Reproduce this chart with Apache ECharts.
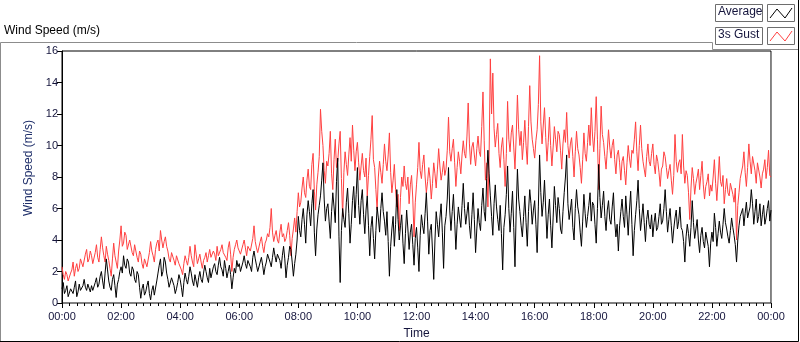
<!DOCTYPE html>
<html>
<head>
<meta charset="utf-8">
<script src="https://cdn.jsdelivr.net/npm/echarts@6/dist/echarts.min.js"></script>
<style>
  html, body { margin: 0; padding: 0; background: #fff; }
  #chart { width: 800px; height: 342px; }
</style>
</head>
<body>
<div id="chart"></div>
<script>
// sample spacing in minutes (values below run 00:00 -> 24:00, one row per hour)
const stepMin = 2.5;

const tickLabels = ["00:00", "02:00", "04:00", "06:00", "08:00", "10:00", "12:00",
  "14:00", "16:00", "18:00", "20:00", "22:00", "00:00"];

// average wind speed (m/s)
const average = [
  0.9,1.3, 0.6,0.8, 1.1,0.4, 0.5,0.9, 0.8,0.6, 1.0,1.4, 0.4,0.7, 1.2,0.8, 0.9,1.1, 1.5,1.0, 0.8,1.2, 1.3,0.7,
  1.1,0.8, 0.7,1.3, 1.6,1.0, 1.2,1.7, 2.0,1.4, 0.9,1.9, 2.8,2.1, 1.4,1.0, 0.8,1.5, 1.8,1.1, 0.35,1.2, 1.5,2.0,
  2.3,1.9, 3.0,2.4, 2.2,2.8, 2.6,1.9, 1.7,2.3, 2.1,1.5, 1.3,2.0, 1.8,1.0, 0.3,0.9, 1.2,0.5, 0.7,1.1, 1.4,0.6,
  0.2,0.8, 1.1,0.5, 0.6,1.4, 1.9,2.4, 2.8,1.7, 2.0,2.9, 2.6,1.9, 1.5,1.0, 0.9,1.6, 1.7,1.1, 0.6,0.9, 1.3,1.8,
  1.5,1.0, 0.4,1.3, 1.9,1.5, 1.2,1.7, 2.3,1.9, 1.4,1.1, 1.8,1.4, 1.0,1.6, 2.0,1.5, 1.3,1.9, 2.4,2.0, 1.6,1.3,
  2.2,1.6, 1.7,2.3, 2.5,2.0, 1.8,2.4, 2.9,2.3, 2.1,1.7, 2.7,2.2, 1.6,2.0, 2.4,1.8, 0.9,1.6, 2.2,1.9, 2.7,2.3,
  2.5,2.0, 1.9,2.6, 3.0,2.5, 2.2,2.7, 2.8,2.3, 2.0,2.9, 3.3,2.8, 2.4,2.0, 2.1,2.6, 2.9,2.4, 1.8,2.3, 2.6,3.1,
  3.0,2.6, 2.3,2.9, 3.5,3.0, 2.6,3.1, 3.2,2.7, 2.2,3.0, 3.6,2.8, 1.6,2.4, 2.9,3.6, 3.4,2.6, 1.7,2.5, 3.1,4.0,
  5.5,4.6, 4.2,5.3, 6.0,5.0, 3.8,5.6, 6.5,5.8, 4.9,6.3, 7.2,4.5, 3.0,4.7, 5.6,6.2, 6.8,7.8, 8.9,6.6, 5.2,6.0,
  6.3,5.2, 4.1,5.8, 7.0,6.1, 5.1,7.7, 9.2,4.2, 1.3,4.6, 6.0,5.3, 4.8,6.4, 7.3,5.7, 3.8,5.0, 6.5,7.4, 5.4,6.9,
  8.6,6.2, 5.0,6.5, 7.2,5.6, 4.4,5.9, 6.8,4.9, 3.0,4.8, 5.5,4.1, 2.8,4.6, 6.1,5.4, 4.5,6.0, 7.0,5.8, 5.2,4.3,
  5.8,3.9, 1.7,3.6, 4.7,5.5, 3.6,5.0, 7.2,5.3, 4.0,4.9, 5.6,3.8, 2.5,4.4, 5.9,4.7, 3.4,4.5, 5.0,3.7, 2.4,4.1,
  4.8,3.5, 2.0,4.3, 5.6,4.9, 4.4,5.7, 7.0,5.2, 3.1,4.6, 5.0,3.3, 1.5,4.0, 5.8,5.0, 4.2,5.4, 6.3,4.5, 2.2,4.9,
  5.5,6.6, 8.6,5.9, 4.6,5.8, 6.9,5.2, 3.4,5.0, 6.1,5.4, 4.8,6.2, 7.6,6.0, 5.0,5.7, 6.4,4.9, 4.1,5.6, 7.0,5.3,
  3.2,4.7, 6.0,5.1, 4.6,6.2, 7.3,5.8, 5.2,7.9, 9.7,8.2, 6.8,5.5, 4.3,6.3, 7.5,6.1, 5.3,4.6, 6.2,4.4, 2.1,4.8,
  5.6,6.9, 8.7,6.0, 4.5,5.7, 7.1,4.8, 2.3,5.9, 8.5,6.6, 5.8,4.9, 4.2,5.5, 6.8,5.1, 3.6,5.8, 7.2,6.3, 5.0,5.9,
  6.5,5.0, 3.2,6.1, 9.4,7.0, 5.5,6.4, 7.8,5.9, 4.1,5.6, 6.6,4.9, 3.5,5.4, 7.4,6.2, 5.1,6.7, 6.0,4.7, 4.4,5.8,
  7.0,8.0, 9.4,6.3, 5.3,5.9, 6.6,4.8, 4.0,6.0, 7.2,6.1, 5.6,4.5, 3.6,5.2, 6.9,5.7, 4.8,5.5, 6.2,7.0, 5.2,6.4,
  6.2,5.0, 3.8,6.0, 8.8,6.7, 5.4,6.2, 7.1,5.5, 4.6,5.9, 6.5,5.3, 5.0,6.1, 7.0,5.2, 4.2,5.0, 3.3,4.9, 5.8,6.6,
  5.5,4.8, 6.8,5.6, 4.3,5.9, 7.1,5.0, 3.0,4.6, 5.6,6.5, 7.8,6.0, 4.6,5.4, 6.3,5.1, 3.9,5.3, 5.9,5.0, 4.7,5.6,
  4.2,5.1, 5.7,4.6, 4.8,5.5, 6.3,5.0, 5.2,6.0, 7.2,5.8, 4.5,5.3, 6.0,4.9, 3.8,4.7, 5.4,5.9, 4.7,5.2, 6.1,4.8,
  4.6,3.9, 2.6,4.2, 5.0,4.4, 3.6,4.8, 6.5,5.1, 4.1,4.7, 5.3,4.0, 3.2,4.3, 4.8,3.9, 3.5,4.5, 4.4,3.6, 2.3,3.8,
  4.5,3.9, 5.7,4.8, 3.6,4.4, 5.2,4.5, 4.1,5.0, 6.0,5.1, 4.7,4.2, 3.8,4.6, 5.4,4.8, 4.3,3.7, 2.6,4.0, 4.9,5.5,
  5.6,6.0, 4.9,5.7, 6.4,5.4, 5.3,6.1, 7.2,6.3, 5.0,5.8, 6.6,5.1, 5.5,6.3, 4.9,5.6, 6.2,5.0, 5.4,6.0, 6.5,5.2,
  5.9
];

// 3 s gust (m/s)
const gust = [
  2.3,1.8, 1.5,2.0, 1.8,1.4, 1.3,1.9, 2.1,2.6, 1.7,2.2, 2.5,2.0, 2.2,2.8, 2.9,2.3, 2.4,3.1, 3.4,2.6, 2.8,3.3,
  3.0,2.5, 2.4,3.2, 3.7,2.9, 2.6,3.4, 4.2,3.5, 3.0,2.6, 3.6,3.1, 2.7,2.2, 1.7,2.8, 3.8,3.0, 2.6,2.2, 3.3,4.0,
  4.9,3.6, 3.8,4.5, 4.3,3.4, 3.5,4.0, 4.1,3.2, 3.0,3.7, 3.6,2.9, 2.6,3.3, 3.1,2.5, 2.2,2.8, 2.9,2.3, 2.4,3.2,
  3.9,3.3, 3.0,2.6, 3.4,3.8, 4.0,3.3, 4.6,4.0, 3.5,3.9, 4.2,3.6, 3.3,2.8, 2.6,3.2, 3.1,2.7, 2.4,3.0, 2.9,2.5,
  2.6,2.1, 1.8,2.5, 3.0,2.7, 2.4,2.9, 3.6,3.0, 2.6,2.3, 3.7,3.1, 2.5,2.8, 3.1,2.6, 2.2,2.7, 2.9,3.2, 2.6,3.0,
  3.4,2.9, 2.8,3.3, 3.1,2.7, 3.6,3.0, 2.9,3.4, 3.7,3.2, 3.3,2.9, 2.7,3.5, 3.9,3.1, 2.0,2.9, 3.4,3.7, 4.0,3.5,
  3.6,3.1, 3.2,3.7, 4.0,3.5, 3.0,3.6, 3.7,3.3, 3.4,4.1, 4.9,3.9, 3.5,3.2, 3.3,3.9, 4.2,3.6, 3.2,3.8, 4.0,4.4,
  4.2,4.8, 6.0,4.5, 3.9,4.3, 4.6,4.0, 3.8,4.5, 5.0,4.2, 4.4,3.9, 4.1,4.6, 5.1,4.3, 3.0,4.1, 4.7,5.4, 4.5,5.8,
  7.0,6.1, 6.4,7.3, 8.0,7.0, 6.7,7.8, 8.5,7.4, 7.2,8.8, 9.5,7.1, 5.9,7.5, 8.3,9.3, 12.3,10.9, 10.0,8.4, 7.6,9.0,
  8.7,9.5, 10.9,8.2, 7.2,9.1, 10.4,8.6, 9.0,10.1, 10.9,7.9, 5.5,8.3, 9.6,8.8, 8.1,9.4, 10.5,9.0, 11.3,9.7, 8.4,9.6,
  10.2,8.9, 7.8,8.7, 9.5,8.4, 8.0,9.2, 6.8,8.1, 9.3,10.4, 11.9,9.1, 8.6,7.2, 5.9,8.0, 9.0,8.3, 7.6,8.8, 10.1,9.0,
  8.4,9.4, 10.8,8.3, 7.0,7.8, 8.8,7.2, 6.1,6.9, 4.6,6.7, 8.0,7.4, 8.7,7.6, 7.2,8.0, 6.3,7.5, 8.1,6.6, 4.2,6.4,
  7.5,8.6, 10.2,8.4, 7.9,8.8, 9.4,8.0, 7.0,7.7, 8.6,7.9, 6.6,7.6, 8.9,8.2, 7.3,8.5, 9.8,8.7, 7.8,8.3, 9.0,8.1,
  8.5,9.7, 11.8,9.6, 9.0,9.8, 10.4,8.9, 7.4,8.6, 9.6,9.0, 8.2,9.4, 10.3,9.5, 9.2,10.6, 12.7,10.1, 8.8,9.9, 10.2,9.4,
  8.7,9.8, 10.6,9.6, 9.3,11.2, 13.4,10.3, 7.8,8.9, 6.1,9.4, 15.5,12.0, 14.6,11.1, 9.9,10.7, 11.4,9.5, 8.6,9.9, 10.5,9.1,
  7.4,9.5, 12.8,10.4, 9.6,10.8, 11.3,9.9, 8.5,10.6, 13.2,11.0, 10.0,10.9, 9.1,10.2, 11.6,10.0, 8.8,11.2, 13.8,11.5, 10.4,9.8,
  9.2,10.3, 11.0,12.6, 15.7,11.5, 10.1,11.3, 12.4,10.5, 9.0,10.2, 11.8,10.0, 8.7,9.9, 11.2,10.4, 9.6,10.9, 10.7,9.7, 8.5,10.1,
  11.0,10.2, 12.1,10.0, 9.2,10.1, 10.5,9.3, 8.0,9.6, 10.9,9.8, 9.4,8.6, 7.6,9.1, 10.8,9.5, 9.0,10.2, 11.3,10.0, 12.4,10.6,
  9.6,10.9, 13.1,10.4, 7.2,9.8, 12.5,10.7, 10.2,9.3, 8.5,9.7, 11.0,9.9, 9.2,10.0, 10.4,9.1, 8.2,9.4, 9.7,8.9, 7.8,9.0,
  9.3,8.4, 7.5,8.9, 10.0,9.2, 8.6,9.7, 9.5,10.4, 11.5,9.6, 8.4,10.0, 11.3,9.8, 9.0,8.5, 8.0,9.3, 10.1,9.0, 8.7,9.5,
  10.1,8.8, 8.2,9.4, 9.0,8.3, 7.4,8.5, 8.7,9.6, 9.3,8.6, 7.9,8.4, 8.8,7.8, 6.9,8.1, 10.7,9.0, 8.3,8.9, 9.1,8.2,
  10.7,8.7, 7.6,8.4, 8.1,7.0, 5.3,7.3, 8.6,7.9, 6.9,7.6, 8.0,8.5, 7.2,8.1, 9.0,7.5, 6.6,7.4, 7.7,8.2, 6.8,7.5,
  7.1,8.0, 9.1,7.6, 6.5,7.8, 9.3,7.7, 7.4,8.1, 6.3,7.2, 7.9,7.0, 6.8,7.6, 7.5,6.9, 6.4,7.3, 4.0,6.2, 7.0,7.9,
  7.8,8.7, 9.6,8.3, 7.4,8.6, 10.1,9.0, 8.2,9.3, 9.4,8.4, 7.6,8.9, 8.8,8.0, 7.3,8.2, 8.5,9.1, 7.9,8.6, 9.7,8.1,
  8.0
];

const toPairs = (vals) => vals.map((v, i) => [i * stepMin, v]);

const font = "Liberation Sans";
const labelColor = "#14143c";

const option = {
  animation: false,
  backgroundColor: "#fff",
  textStyle: { fontFamily: font },
  grid: {
    left: 62, top: 51, right: 29, bottom: 39,
    outerBoundsMode: "none",
    show: true, borderColor: "#000", borderWidth: 1, backgroundColor: "#fff"
  },
  xAxis: {
    type: "value",
    min: 0, max: 1440, interval: 120,
    name: "Time",
    nameLocation: "middle",
    nameGap: 25,
    nameTextStyle: { color: labelColor, fontSize: 12, fontFamily: font },
    axisLine: { lineStyle: { color: "#808080", width: 1 } },
    axisTick: { show: true, length: 5, lineStyle: { color: "#000" } },
    minorTick: { show: true, splitNumber: 8, length: 3, lineStyle: { color: "#000" } },
    splitLine: { show: false },
    axisLabel: {
      color: labelColor, fontSize: 11, fontFamily: font, margin: 8,
      formatter: (v) => tickLabels[Math.round(v / 120)]
    }
  },
  yAxis: {
    type: "value",
    min: 0, max: 16, interval: 2,
    name: "Wind Speed (m/s)",
    nameLocation: "middle",
    nameGap: 21,
    nameRotate: 90,
    nameTextStyle: { color: "#1f2f6a", fontSize: 12, fontFamily: font, padding: [0, 0, 0, 18] },
    axisLine: { show: true, lineStyle: { color: "#000", width: 1 } },
    axisTick: { show: true, length: 5, lineStyle: { color: "#000" } },
    splitLine: { show: false },
    axisLabel: { color: labelColor, fontSize: 11, fontFamily: font, margin: 4 }
  },
  series: [
    {
      name: "3s Gust",
      type: "line",
      data: toPairs(gust),
      showSymbol: false,
      lineStyle: { color: "#ff4040", width: 1 },
      z: 2
    },
    {
      name: "Average",
      type: "line",
      data: toPairs(average),
      showSymbol: false,
      lineStyle: { color: "#000", width: 1 },
      z: 3
    }
  ],
  graphic: [
    // outer panel
    { type: "polyline", silent: true, shape: { points: [[0.5, 341], [0.5, 42.5], [712.5, 42.5], [712.5, 49.5], [798.5, 49.5]] },
      style: { stroke: "#8c8c8c", lineWidth: 1, fill: null } },
    { type: "polyline", silent: true, shape: { points: [[798.5, 0], [798.5, 341.5], [0, 341.5]] },
      style: { stroke: "#000", lineWidth: 1, fill: null } },
    // plot area right edge
    { type: "line", silent: true, shape: { x1: 771.5, y1: 51, x2: 771.5, y2: 303 },
      style: { stroke: "#8c8c8c", lineWidth: 1 } },
    // chart title
    { type: "text", left: 4, top: 25, silent: true,
      style: { text: "Wind Speed (m/s)", fill: "#000", font: "12px " + font } },
    // legend: Average
    { type: "rect", silent: true, shape: { x: 715.5, y: 4.5, width: 47, height: 17 },
      style: { fill: "#fff", stroke: "#6e6e6e", lineWidth: 1 } },
    { type: "text", silent: true, left: 718, top: 6,
      style: { text: "Average", fill: "#14143c", font: "12px " + font } },
    { type: "rect", silent: true, shape: { x: 767.5, y: 4.5, width: 27, height: 17 },
      style: { fill: "#fff", stroke: "#6e6e6e", lineWidth: 1 } },
    { type: "polyline", silent: true, shape: { points: [[770, 18], [777, 9], [785, 18], [792, 8]] },
      style: { stroke: "#000", lineWidth: 1, fill: null } },
    // legend: 3s Gust
    { type: "rect", silent: true, shape: { x: 715.5, y: 27.5, width: 47, height: 17 },
      style: { fill: "#fff", stroke: "#6e6e6e", lineWidth: 1 } },
    { type: "text", silent: true, left: 718, top: 29,
      style: { text: "3s Gust", fill: "#14143c", font: "12px " + font } },
    { type: "rect", silent: true, shape: { x: 767.5, y: 27.5, width: 27, height: 17 },
      style: { fill: "#fff", stroke: "#6e6e6e", lineWidth: 1 } },
    { type: "polyline", silent: true, shape: { points: [[770, 41], [777, 32], [785, 41], [792, 31]] },
      style: { stroke: "#ff4040", lineWidth: 1, fill: null } }
  ]
};

const chart = echarts.init(document.getElementById("chart"), null, { renderer: "canvas" });
chart.setOption(option);
</script>
</body>
</html>
